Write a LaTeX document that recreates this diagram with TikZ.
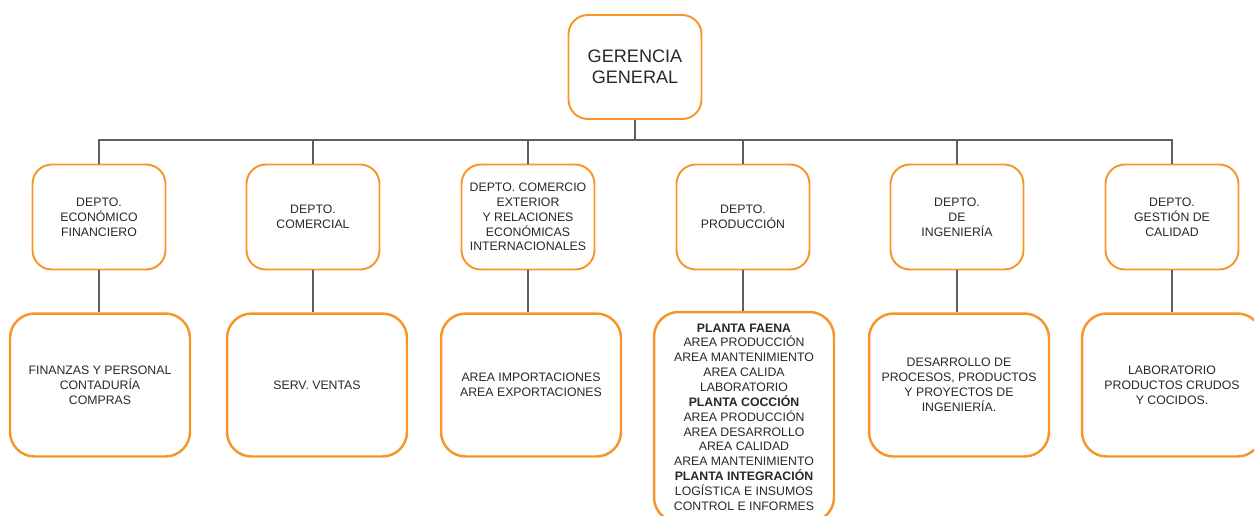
\documentclass[tikz,border=0pt]{standalone}
\usepackage{fontspec}
\setmainfont{Liberation Sans}
\usepackage{tikz}
\definecolor{naranja}{RGB}{247,150,40}
\definecolor{gris}{RGB}{95,95,95}
\definecolor{texto}{RGB}{40,40,40}

\begin{document}
\begin{tikzpicture}[x=0.02cm, y=-0.02cm,
        caja/.style={draw=naranja, line width=1.1pt, rounded corners=11pt, fill=white, align=center,
                     text=texto, font=\fontsize{7}{8.45}\selectfont, inner sep=1pt},
        depto/.style={caja, minimum width=2.66cm, minimum height=2.1cm},
        area/.style={caja, line width=1.4pt, rounded corners=14pt, minimum width=3.6cm, minimum height=2.86cm},
        linea/.style={draw=gris, line width=1.2pt}]
                \useasboundingbox (0,0) rectangle (1254,515);
                \node[caja, minimum width=2.66cm, minimum height=2.08cm, font=\fontsize{10.3}{11.9}\selectfont] (gg) at (635,67) {GERENCIA\\GENERAL};
                \coordinate (bus) at (635,140);
                % departamentos
                \node[depto] (d1) at (99,217) {DEPTO.\\ECONÓMICO\\FINANCIERO};
                \node[depto] (d2) at (313,217) {DEPTO.\\COMERCIAL};
                \node[depto] (d3) at (528,217) {DEPTO. COMERCIO\\EXTERIOR\\Y RELACIONES\\ECONÓMICAS\\INTERNACIONALES};
                \node[depto] (d4) at (743,217) {DEPTO.\\PRODUCCIÓN};
                \node[depto] (d5) at (957,217) {DEPTO.\\DE\\INGENIERÍA};
                \node[depto] (d6) at (1172,217) {DEPTO.\\GESTIÓN DE\\CALIDAD};
                % areas
                \node[area] (a1) at (100,385) {FINANZAS Y PERSONAL\\CONTADURÍA\\COMPRAS};
                \node[area] (a2) at (317,385) {SERV. VENTAS};
                \node[area] (a3) at (531,385) {AREA IMPORTACIONES\\AREA EXPORTACIONES};
                \node[area, minimum height=4.2cm] (a4) at (744,417) {\textbf{PLANTA FAENA}\\AREA PRODUCCIÓN\\AREA MANTENIMIENTO\\AREA CALIDA\\LABORATORIO\\\textbf{PLANTA COCCIÓN}\\AREA PRODUCCIÓN\\AREA DESARROLLO\\AREA CALIDAD\\AREA MANTENIMIENTO\\\textbf{PLANTA INTEGRACIÓN}\\LOGÍSTICA E INSUMOS\\CONTROL E INFORMES};
                \node[area] (a5) at (959,385) {DESARROLLO DE\\PROCESOS, PRODUCTOS\\Y PROYECTOS DE\\INGENIERÍA.};
                \node[area] (a6) at (1172,385) {LABORATORIO\\PRODUCTOS CRUDOS\\Y COCIDOS.};
                % conectores
                \draw[linea] (gg) -- (bus);
                \foreach \i in {1,...,6} {
                    \draw[linea] (d\i.north) |- (bus);
                    \draw[linea] (d\i.south) -- (d\i.south |- a\i.north);
                }
            \end{tikzpicture}
\end{document}
